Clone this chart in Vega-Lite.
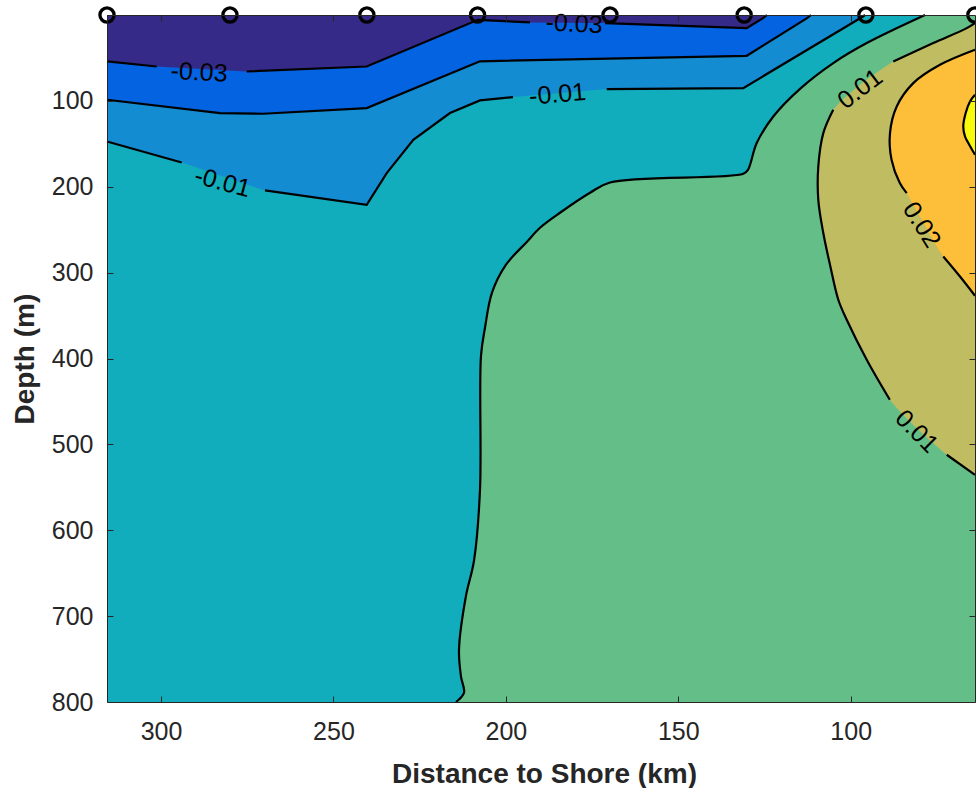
{
  "$schema": "https://vega.github.io/schema/vega-lite/v6.json",
  "width": 868,
  "height": 687,
  "autosize": {"type": "none"},
  "padding": {"left": 107, "top": 15, "right": 1, "bottom": 86},
  "background": "white",
  "config": {"view": {"stroke": null}},
  "datasets": {
    "base": [{"km0": 315.66, "km1": 63.96, "d0": 0, "d1": 800}],
    "contours": [
      {"line": "A", "seg": "A1", "i": 0, "km": 315.66, "depth": 54.1},
      {"line": "A", "seg": "A1", "i": 1, "km": 301.25, "depth": 60.0},
      {"line": "A", "seg": "A2", "i": 2, "km": 275.15, "depth": 65.8},
      {"line": "A", "seg": "A2", "i": 3, "km": 240.35, "depth": 60.0},
      {"line": "A", "seg": "A2", "i": 4, "km": 208.08, "depth": 5.6},
      {"line": "A", "seg": "A2", "i": 5, "km": 193.0, "depth": 8.7},
      {"line": "A", "seg": "A3", "i": 6, "km": 171.25, "depth": 9.4},
      {"line": "A", "seg": "A3", "i": 7, "km": 130.16, "depth": 15.3},
      {"line": "A", "seg": "A3", "i": 8, "km": 125.43, "depth": 3.6},
      {"line": "A", "seg": "A3", "i": 9, "km": 124.27, "depth": 0},
      {"line": "B", "seg": "B1", "i": 0, "km": 315.66, "depth": 98.7},
      {"line": "B", "seg": "B1", "i": 1, "km": 282.89, "depth": 114.2},
      {"line": "B", "seg": "B1", "i": 2, "km": 270.42, "depth": 115.0},
      {"line": "B", "seg": "B1", "i": 3, "km": 240.35, "depth": 108.4},
      {"line": "B", "seg": "B1", "i": 4, "km": 207.5, "depth": 53.9},
      {"line": "B", "seg": "B1", "i": 5, "km": 130.16, "depth": 47.5},
      {"line": "B", "seg": "B1", "i": 6, "km": 112.67, "depth": 3.6},
      {"line": "B", "seg": "B1", "i": 7, "km": 111.51, "depth": 0},
      {"line": "C", "seg": "C1", "i": 0, "km": 315.66, "depth": 147.3},
      {"line": "C", "seg": "C1", "i": 1, "km": 294.0, "depth": 171.7},
      {"line": "C", "seg": "C2", "i": 2, "km": 269.84, "depth": 204.3},
      {"line": "C", "seg": "C2", "i": 3, "km": 240.35, "depth": 221.0},
      {"line": "C", "seg": "C2", "i": 4, "km": 234.55, "depth": 184.1},
      {"line": "C", "seg": "C2", "i": 5, "km": 226.84, "depth": 145.3},
      {"line": "C", "seg": "C2", "i": 6, "km": 216.2, "depth": 114.2},
      {"line": "C", "seg": "C2", "i": 7, "km": 207.5, "depth": 99.5},
      {"line": "C", "seg": "C2", "i": 8, "km": 197.93, "depth": 95.6},
      {"line": "C", "seg": "C3", "i": 9, "km": 170.76, "depth": 86.3},
      {"line": "C", "seg": "C3", "i": 10, "km": 131.15, "depth": 85.1},
      {"line": "C", "seg": "C3", "i": 11, "km": 96.43, "depth": 1.7},
      {"line": "C", "seg": "C3", "i": 12, "km": 95.85, "depth": 0},
      {"line": "D", "seg": "D1", "i": 0, "km": 78.45, "depth": 0},
      {"line": "D", "seg": "D1", "i": 1, "km": 95.36, "depth": 32.7},
      {"line": "D", "seg": "D1", "i": 2, "km": 105.06, "depth": 56.0},
      {"line": "D", "seg": "D1", "i": 3, "km": 114.7, "depth": 86.0},
      {"line": "D", "seg": "D1", "i": 4, "km": 122.45, "depth": 118.2},
      {"line": "D", "seg": "D1", "i": 5, "km": 127.26, "depth": 149.1},
      {"line": "D", "seg": "D1", "i": 6, "km": 129.78, "depth": 180.2},
      {"line": "D", "seg": "D1", "i": 7, "km": 131.15, "depth": 184.9},
      {"line": "D", "seg": "D1", "i": 8, "km": 169.8, "depth": 195.0},
      {"line": "D", "seg": "D1", "i": 9, "km": 175.6, "depth": 207.0},
      {"line": "D", "seg": "D1", "i": 10, "km": 184.3, "depth": 230.3},
      {"line": "D", "seg": "D1", "i": 11, "km": 190.1, "depth": 247.8},
      {"line": "D", "seg": "D1", "i": 12, "km": 193.87, "depth": 264.0},
      {"line": "D", "seg": "D1", "i": 13, "km": 199.96, "depth": 290.8},
      {"line": "D", "seg": "D1", "i": 14, "km": 204.02, "depth": 323.4},
      {"line": "D", "seg": "D1", "i": 15, "km": 206.05, "depth": 364.2},
      {"line": "D", "seg": "D1", "i": 16, "km": 207.21, "depth": 396.8},
      {"line": "D", "seg": "D1", "i": 17, "km": 207.5, "depth": 552.8},
      {"line": "D", "seg": "D1", "i": 18, "km": 209.24, "depth": 635.5},
      {"line": "D", "seg": "D1", "i": 19, "km": 211.56, "depth": 676.2},
      {"line": "D", "seg": "D1", "i": 20, "km": 213.59, "depth": 739.1},
      {"line": "D", "seg": "D1", "i": 21, "km": 213.01, "depth": 770.5},
      {"line": "D", "seg": "D1", "i": 22, "km": 212.14, "depth": 789.2},
      {"line": "D", "seg": "D1", "i": 23, "km": 214.46, "depth": 800},
      {"line": "E", "seg": "E1", "i": 0, "km": 63.96, "depth": 9.5},
      {"line": "E", "seg": "E1", "i": 1, "km": 66.36, "depth": 15.3},
      {"line": "E", "seg": "E1", "i": 2, "km": 76.06, "depth": 32.7},
      {"line": "E", "seg": "E1", "i": 3, "km": 87.66, "depth": 54.1},
      {"line": "E", "seg": "E2", "i": 4, "km": 105.06, "depth": 110.4},
      {"line": "E", "seg": "E2", "i": 5, "km": 107.95, "depth": 137.5},
      {"line": "E", "seg": "E2", "i": 6, "km": 109.4, "depth": 176.4},
      {"line": "E", "seg": "E2", "i": 7, "km": 109.4, "depth": 215.2},
      {"line": "E", "seg": "E2", "i": 8, "km": 107.95, "depth": 253.9},
      {"line": "E", "seg": "E2", "i": 9, "km": 105.9, "depth": 292.8},
      {"line": "E", "seg": "E2", "i": 10, "km": 103.6, "depth": 331.6},
      {"line": "E", "seg": "E2", "i": 11, "km": 101.16, "depth": 354.9},
      {"line": "E", "seg": "E2", "i": 12, "km": 95.36, "depth": 401.4},
      {"line": "E", "seg": "E2", "i": 13, "km": 88.66, "depth": 448.0},
      {"line": "E", "seg": "E3", "i": 14, "km": 72.16, "depth": 512.1},
      {"line": "E", "seg": "E3", "i": 15, "km": 63.96, "depth": 535.4},
      {"line": "F", "seg": "F1", "i": 0, "km": 63.96, "depth": 40.5},
      {"line": "F", "seg": "F1", "i": 1, "km": 74.11, "depth": 58.0},
      {"line": "F", "seg": "F1", "i": 2, "km": 81.86, "depth": 79.3},
      {"line": "F", "seg": "F1", "i": 3, "km": 86.66, "depth": 106.5},
      {"line": "F", "seg": "F1", "i": 4, "km": 88.61, "depth": 137.5},
      {"line": "F", "seg": "F1", "i": 5, "km": 88.16, "depth": 168.6},
      {"line": "F", "seg": "F1", "i": 6, "km": 85.76, "depth": 195.7},
      {"line": "F", "seg": "F1", "i": 7, "km": 83.76, "depth": 207.4},
      {"line": "F", "seg": "F2", "i": 8, "km": 73.16, "depth": 281.2},
      {"line": "F", "seg": "F2", "i": 9, "km": 68.31, "depth": 304.5},
      {"line": "F", "seg": "F2", "i": 10, "km": 63.96, "depth": 326.9},
      {"line": "G", "seg": "G1", "i": 0, "km": 63.96, "depth": 92.9},
      {"line": "G", "seg": "G1", "i": 1, "km": 65.41, "depth": 100.7},
      {"line": "G", "seg": "G1", "i": 2, "km": 66.66, "depth": 114.2},
      {"line": "G", "seg": "G1", "i": 3, "km": 67.36, "depth": 129.8},
      {"line": "G", "seg": "G1", "i": 4, "km": 66.85, "depth": 141.5},
      {"line": "G", "seg": "G1", "i": 5, "km": 65.9, "depth": 149.1},
      {"line": "G", "seg": "G1", "i": 6, "km": 63.96, "depth": 162.8}
    ],
    "labels": [
      {"lid": "L1", "txt": "-0.03", "km": 288.98, "depth": 66.7},
      {"lid": "L2", "txt": "-0.01", "km": 282.17, "depth": 194.8},
      {"lid": "L3", "txt": "-0.03", "km": 180.24, "depth": 10.2},
      {"lid": "L4", "txt": "-0.01", "km": 185.02, "depth": 92.3},
      {"lid": "L5", "txt": "0.01", "km": 97.3, "depth": 86.0},
      {"lid": "L6", "txt": "0.02", "km": 79.4, "depth": 244.3},
      {"lid": "L7", "txt": "0.01", "km": 80.86, "depth": 484.9}
    ],
    "stations": [
      {"km": 315.66, "depth": 0},
      {"km": 280.0, "depth": 0},
      {"km": 240.3, "depth": 0},
      {"km": 208.2, "depth": 0},
      {"km": 169.8, "depth": 0},
      {"km": 130.9, "depth": 0},
      {"km": 95.6, "depth": 0},
      {"km": 64.0, "depth": 0}
    ]
  },
  "resolve": {"axis": {"x": "independent", "y": "independent"}},
  "layer": [
    {
      "data": {"name": "base"},
      "mark": {"type": "rect", "color": "#12ADBC"},
      "encoding": {
        "x": {
          "field": "km0", "type": "quantitative",
          "scale": {"domain": [63.96, 315.66], "reverse": true, "nice": false, "zero": false},
          "axis": {
            "orient": "bottom", "title": "Distance to Shore (km)",
            "values": [100, 150, 200, 250, 300], "format": "d", "grid": false,
            "tickSize": -6, "tickColor": "#262626", "tickWidth": 1,
            "domainColor": "#262626", "domainWidth": 1,
            "labelFont": "Liberation Sans", "labelFontSize": 25, "labelColor": "#262626",
            "labelPadding": 23, "labelFlush": false, "labelOverlap": false,
            "titleFont": "Liberation Sans", "titleFontSize": 28, "titleFontWeight": "bold",
            "titleColor": "#262626", "titleX": 437, "titleY": 80, "titleBaseline": "alphabetic",
            "titleAlign": "center", "zindex": 1
          }
        },
        "x2": {"field": "km1"},
        "y": {
          "field": "d0", "type": "quantitative",
          "scale": {"domain": [0, 800], "reverse": true, "nice": false, "zero": false},
          "axis": {
            "orient": "left", "title": "Depth (m)",
            "values": [100, 200, 300, 400, 500, 600, 700, 800], "format": "d", "grid": false,
            "tickSize": -6, "tickColor": "#262626", "tickWidth": 1,
            "domainColor": "#262626", "domainWidth": 1,
            "labelFont": "Liberation Sans", "labelFontSize": 25, "labelColor": "#262626",
            "labelPadding": 20, "labelFlush": false, "labelOverlap": false,
            "titleFont": "Liberation Sans", "titleFontSize": 28, "titleFontWeight": "bold",
            "titleColor": "#262626", "titleX": -74, "titleY": 343.6, "titleBaseline": "alphabetic",
            "titleAlign": "center", "titleAngle": -90, "zindex": 1
          }
        },
        "y2": {"field": "d1"}
      }
    },
    {
      "data": {"name": "contours"},
      "transform": [{"filter": "datum.line === 'C'"}],
      "mark": {"type": "area", "color": "#148CD2", "orient": "vertical", "opacity": 1},
      "encoding": {
        "x": {"field": "km", "type": "quantitative", "axis": null},
        "y": {"field": "depth", "type": "quantitative", "axis": null},
        "y2": {"datum": 0}
      }
    },
    {
      "data": {"name": "contours"},
      "transform": [{"filter": "datum.line === 'B'"}],
      "mark": {"type": "area", "color": "#0363E1", "orient": "vertical", "opacity": 1},
      "encoding": {
        "x": {"field": "km", "type": "quantitative", "axis": null},
        "y": {"field": "depth", "type": "quantitative", "axis": null},
        "y2": {"datum": 0}
      }
    },
    {
      "data": {"name": "contours"},
      "transform": [{"filter": "datum.line === 'A'"}],
      "mark": {"type": "area", "color": "#352A87", "orient": "vertical", "opacity": 1},
      "encoding": {
        "x": {"field": "km", "type": "quantitative", "axis": null},
        "y": {"field": "depth", "type": "quantitative", "axis": null},
        "y2": {"datum": 0}
      }
    },
    {
      "data": {"name": "contours"},
      "transform": [{"filter": "datum.line === 'D'"}],
      "mark": {"type": "area", "color": "#64BE87", "orient": "horizontal", "interpolate": "catmull-rom", "opacity": 1},
      "encoding": {
        "y": {"field": "depth", "type": "quantitative", "axis": null},
        "x": {"field": "km", "type": "quantitative", "axis": null},
        "x2": {"datum": 63.96}
      }
    },
    {
      "data": {"name": "contours"},
      "transform": [{"filter": "datum.line === 'E'"}],
      "mark": {"type": "area", "color": "#BFBC62", "orient": "horizontal", "interpolate": "catmull-rom", "opacity": 1},
      "encoding": {
        "y": {"field": "depth", "type": "quantitative", "axis": null},
        "x": {"field": "km", "type": "quantitative", "axis": null},
        "x2": {"datum": 63.96}
      }
    },
    {
      "data": {"name": "contours"},
      "transform": [{"filter": "datum.line === 'F'"}],
      "mark": {"type": "area", "color": "#FDBE3A", "orient": "horizontal", "interpolate": "catmull-rom", "opacity": 1},
      "encoding": {
        "y": {"field": "depth", "type": "quantitative", "axis": null},
        "x": {"field": "km", "type": "quantitative", "axis": null},
        "x2": {"datum": 63.96}
      }
    },
    {
      "data": {"name": "contours"},
      "transform": [{"filter": "datum.line === 'G'"}],
      "mark": {"type": "area", "color": "#F8FA0E", "orient": "horizontal", "interpolate": "catmull-rom", "opacity": 1},
      "encoding": {
        "y": {"field": "depth", "type": "quantitative", "axis": null},
        "x": {"field": "km", "type": "quantitative", "axis": null},
        "x2": {"datum": 63.96}
      }
    },
    {
      "data": {"name": "contours"},
      "transform": [{"filter": "datum.line === 'A' || datum.line === 'B' || datum.line === 'C'"}],
      "mark": {"type": "line", "color": "black", "strokeWidth": 2.2, "clip": false},
      "encoding": {
        "x": {"field": "km", "type": "quantitative", "axis": null},
        "y": {"field": "depth", "type": "quantitative", "axis": null},
        "detail": {"field": "seg", "type": "nominal"},
        "order": {"field": "i", "type": "quantitative"}
      }
    },
    {
      "data": {"name": "contours"},
      "transform": [{"filter": "datum.line === 'D' || datum.line === 'E' || datum.line === 'F' || datum.line === 'G'"}],
      "mark": {"type": "line", "color": "black", "strokeWidth": 2.2, "interpolate": "catmull-rom", "clip": false},
      "encoding": {
        "x": {"field": "km", "type": "quantitative", "axis": null},
        "y": {"field": "depth", "type": "quantitative", "axis": null},
        "detail": {"field": "seg", "type": "nominal"},
        "order": {"field": "i", "type": "quantitative"}
      }
    },
    {
      "data": {"name": "labels"},
      "transform": [{"filter": "datum.lid === 'L1'"}],
      "mark": {"type": "text", "font": "Liberation Sans", "fontSize": 25, "color": "black", "align": "center", "baseline": "middle", "angle": 3},
      "encoding": {
        "x": {"field": "km", "type": "quantitative", "axis": null},
        "y": {"field": "depth", "type": "quantitative", "axis": null},
        "text": {"field": "txt", "type": "nominal"}
      }
    },
    {
      "data": {"name": "labels"},
      "transform": [{"filter": "datum.lid === 'L2'"}],
      "mark": {"type": "text", "font": "Liberation Sans", "fontSize": 25, "color": "black", "align": "center", "baseline": "middle", "angle": 15},
      "encoding": {
        "x": {"field": "km", "type": "quantitative", "axis": null},
        "y": {"field": "depth", "type": "quantitative", "axis": null},
        "text": {"field": "txt", "type": "nominal"}
      }
    },
    {
      "data": {"name": "labels"},
      "transform": [{"filter": "datum.lid === 'L3'"}],
      "mark": {"type": "text", "font": "Liberation Sans", "fontSize": 25, "color": "black", "align": "center", "baseline": "middle", "angle": 3},
      "encoding": {
        "x": {"field": "km", "type": "quantitative", "axis": null},
        "y": {"field": "depth", "type": "quantitative", "axis": null},
        "text": {"field": "txt", "type": "nominal"}
      }
    },
    {
      "data": {"name": "labels"},
      "transform": [{"filter": "datum.lid === 'L4'"}],
      "mark": {"type": "text", "font": "Liberation Sans", "fontSize": 25, "color": "black", "align": "center", "baseline": "middle", "angle": 355},
      "encoding": {
        "x": {"field": "km", "type": "quantitative", "axis": null},
        "y": {"field": "depth", "type": "quantitative", "axis": null},
        "text": {"field": "txt", "type": "nominal"}
      }
    },
    {
      "data": {"name": "labels"},
      "transform": [{"filter": "datum.lid === 'L5'"}],
      "mark": {"type": "text", "font": "Liberation Sans", "fontSize": 25, "color": "black", "align": "center", "baseline": "middle", "angle": 323},
      "encoding": {
        "x": {"field": "km", "type": "quantitative", "axis": null},
        "y": {"field": "depth", "type": "quantitative", "axis": null},
        "text": {"field": "txt", "type": "nominal"}
      }
    },
    {
      "data": {"name": "labels"},
      "transform": [{"filter": "datum.lid === 'L6'"}],
      "mark": {"type": "text", "font": "Liberation Sans", "fontSize": 25, "color": "black", "align": "center", "baseline": "middle", "angle": 58},
      "encoding": {
        "x": {"field": "km", "type": "quantitative", "axis": null},
        "y": {"field": "depth", "type": "quantitative", "axis": null},
        "text": {"field": "txt", "type": "nominal"}
      }
    },
    {
      "data": {"name": "labels"},
      "transform": [{"filter": "datum.lid === 'L7'"}],
      "mark": {"type": "text", "font": "Liberation Sans", "fontSize": 25, "color": "black", "align": "center", "baseline": "middle", "angle": 45},
      "encoding": {
        "x": {"field": "km", "type": "quantitative", "axis": null},
        "y": {"field": "depth", "type": "quantitative", "axis": null},
        "text": {"field": "txt", "type": "nominal"}
      }
    },
    {
      "data": {"name": "stations"},
      "mark": {"type": "point", "shape": "circle", "filled": false, "size": 200, "strokeWidth": 3.3, "color": "black", "opacity": 1, "clip": false},
      "encoding": {
        "x": {
          "field": "km", "type": "quantitative",
          "axis": {
            "orient": "top", "title": null, "labels": false,
            "values": [100, 150, 200, 250, 300], "grid": false,
            "tickSize": -6, "tickColor": "#262626", "tickWidth": 1,
            "domainColor": "#262626", "domainWidth": 1, "zindex": 1
          }
        },
        "y": {
          "field": "depth", "type": "quantitative",
          "axis": {
            "orient": "right", "title": null, "labels": false,
            "values": [100, 200, 300, 400, 500, 600, 700, 800], "grid": false,
            "tickSize": -6, "tickColor": "#262626", "tickWidth": 1,
            "domainColor": "#262626", "domainWidth": 1, "zindex": 1
          }
        }
      }
    }
  ]
}
